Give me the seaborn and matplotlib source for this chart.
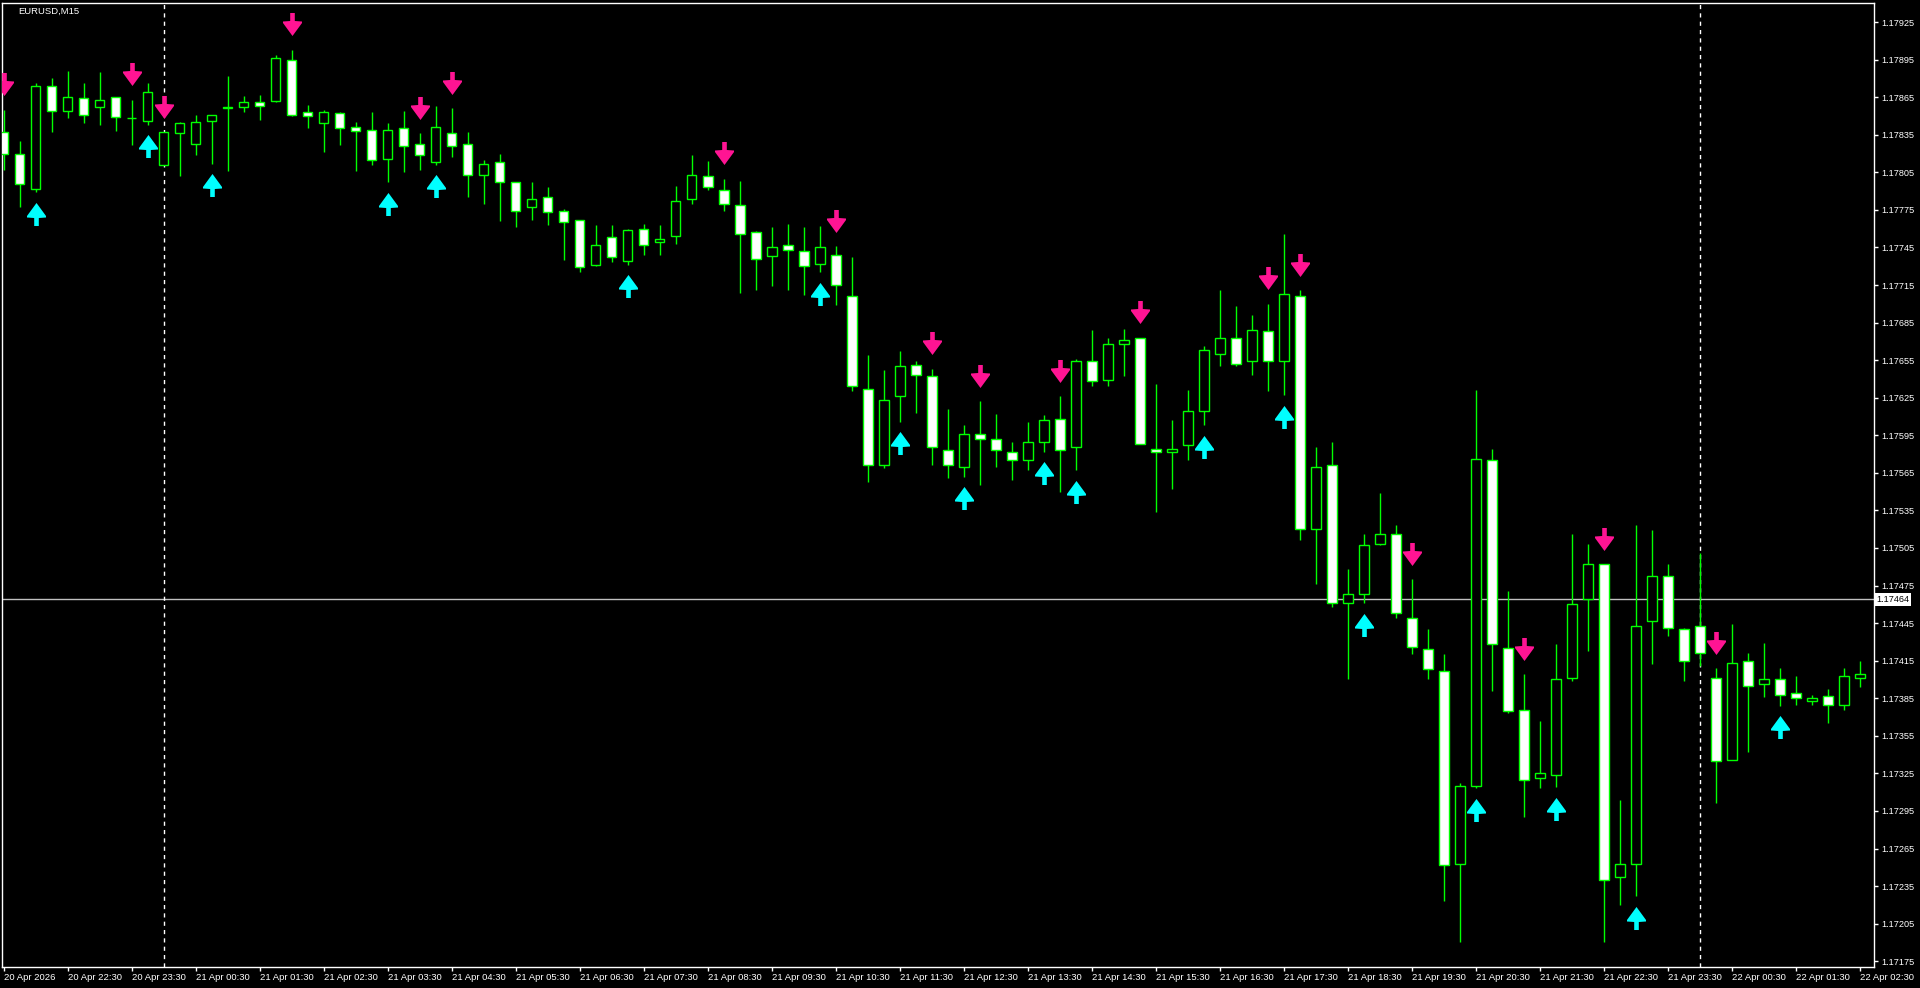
import matplotlib
matplotlib.use("Agg")
import matplotlib.pyplot as plt
from matplotlib.path import Path
from matplotlib.transforms import offset_copy
import numpy as np
import pandas as pd
import seaborn as sns

# EURUSD M15, bars from 20 Apr 21:30 to 22 Apr 02:30 (117 bars)
opens = [
    1.17837, 1.17820, 1.17792, 1.17874, 1.17854, 1.17864, 1.17857, 1.17865, 1.17848, 1.17846,
    1.17811, 1.17836, 1.17828, 1.17846, 1.17856, 1.17857, 1.17861, 1.17862, 1.17895, 1.17853,
    1.17844, 1.17852, 1.17841, 1.17839, 1.17816, 1.17840, 1.17828, 1.17813, 1.17836, 1.17828,
    1.17803, 1.17813, 1.17797, 1.17777, 1.17785, 1.17774, 1.17767, 1.17731, 1.17753, 1.17734,
    1.17760, 1.17749, 1.17754, 1.17784, 1.17802, 1.17791, 1.17779, 1.17757, 1.17738, 1.17747,
    1.17742, 1.17732, 1.17739, 1.17706, 1.17632, 1.17571, 1.17626, 1.17651, 1.17642, 1.17583,
    1.17570, 1.17596, 1.17592, 1.17582, 1.17575, 1.17590, 1.17608, 1.17586, 1.17654, 1.17639,
    1.17668, 1.17673, 1.17584, 1.17582, 1.17587, 1.17614, 1.17660, 1.17673, 1.17654, 1.17678,
    1.17654, 1.17706, 1.17520, 1.17571, 1.17461, 1.17468, 1.17508, 1.17516, 1.17449, 1.17424,
    1.17407, 1.17253, 1.17315, 1.17575, 1.17425, 1.17376, 1.17321, 1.17324, 1.17401, 1.17464,
    1.17492, 1.17242, 1.17253, 1.17447, 1.17483, 1.17440, 1.17443, 1.17401, 1.17336, 1.17415,
    1.17396, 1.17400, 1.17389, 1.17383, 1.17387, 1.17380, 1.17401]
highs = [
    1.17855, 1.17830, 1.17876, 1.17880, 1.17886, 1.17876, 1.17885, 1.17865, 1.17863, 1.17876,
    1.17837, 1.17845, 1.17851, 1.17851, 1.17882, 1.17866, 1.17867, 1.17899, 1.17903, 1.17859,
    1.17855, 1.17853, 1.17845, 1.17853, 1.17844, 1.17854, 1.17836, 1.17858, 1.17856, 1.17837,
    1.17815, 1.17820, 1.17797, 1.17797, 1.17793, 1.17776, 1.17767, 1.17763, 1.17763, 1.17760,
    1.17764, 1.17763, 1.17794, 1.17819, 1.17814, 1.17800, 1.17798, 1.17758, 1.17761, 1.17764,
    1.17761, 1.17762, 1.17746, 1.17737, 1.17659, 1.17647, 1.17662, 1.17654, 1.17648, 1.17616,
    1.17603, 1.17622, 1.17612, 1.17590, 1.17606, 1.17611, 1.17626, 1.17656, 1.17679, 1.17673,
    1.17680, 1.17673, 1.17636, 1.17607, 1.17631, 1.17666, 1.17711, 1.17698, 1.17691, 1.17700,
    1.17756, 1.17711, 1.17586, 1.17590, 1.17488, 1.17516, 1.17549, 1.17523, 1.17480, 1.17440,
    1.17420, 1.17317, 1.17631, 1.17584, 1.17471, 1.17404, 1.17367, 1.17428, 1.17516, 1.17508,
    1.17492, 1.17304, 1.17523, 1.17519, 1.17492, 1.17441, 1.17501, 1.17409, 1.17444, 1.17421,
    1.17429, 1.17409, 1.17403, 1.17388, 1.17392, 1.17409, 1.17415]
lows = [
    1.17807, 1.17777, 1.17789, 1.17837, 1.17848, 1.17844, 1.17843, 1.17838, 1.17827, 1.17843,
    1.17811, 1.17802, 1.17819, 1.17812, 1.17806, 1.17853, 1.17847, 1.17861, 1.17850, 1.17840,
    1.17821, 1.17827, 1.17806, 1.17811, 1.17797, 1.17805, 1.17807, 1.17811, 1.17817, 1.17785,
    1.17780, 1.17766, 1.17761, 1.17767, 1.17763, 1.17735, 1.17725, 1.17730, 1.17733, 1.17731,
    1.17739, 1.17739, 1.17748, 1.17780, 1.17791, 1.17774, 1.17709, 1.17711, 1.17714, 1.17711,
    1.17707, 1.17725, 1.17699, 1.17630, 1.17558, 1.17569, 1.17606, 1.17613, 1.17571, 1.17561,
    1.17562, 1.17555, 1.17570, 1.17559, 1.17567, 1.17582, 1.17550, 1.17567, 1.17634, 1.17634,
    1.17642, 1.17588, 1.17534, 1.17552, 1.17575, 1.17603, 1.17650, 1.17650, 1.17643, 1.17630,
    1.17627, 1.17511, 1.17476, 1.17458, 1.17400, 1.17461, 1.17507, 1.17449, 1.17420, 1.17400,
    1.17223, 1.17190, 1.17313, 1.17391, 1.17373, 1.17290, 1.17313, 1.17314, 1.17399, 1.17423,
    1.17190, 1.17220, 1.17227, 1.17412, 1.17435, 1.17399, 1.17411, 1.17301, 1.17336, 1.17342,
    1.17386, 1.17379, 1.17380, 1.17380, 1.17365, 1.17376, 1.17394]
closes = [
    1.17820, 1.17796, 1.17874, 1.17854, 1.17865, 1.17851, 1.17863, 1.17849, 1.17848, 1.17869,
    1.17837, 1.17844, 1.17845, 1.17851, 1.17857, 1.17861, 1.17858, 1.17896, 1.17851, 1.17850,
    1.17853, 1.17840, 1.17838, 1.17815, 1.17839, 1.17826, 1.17819, 1.17841, 1.17826, 1.17803,
    1.17812, 1.17797, 1.17774, 1.17784, 1.17773, 1.17765, 1.17729, 1.17747, 1.17737, 1.17759,
    1.17747, 1.17752, 1.17782, 1.17803, 1.17793, 1.17780, 1.17756, 1.17736, 1.17745, 1.17743,
    1.17730, 1.17745, 1.17715, 1.17634, 1.17571, 1.17623, 1.17650, 1.17643, 1.17586, 1.17571,
    1.17596, 1.17592, 1.17583, 1.17575, 1.17590, 1.17607, 1.17583, 1.17654, 1.17638, 1.17668,
    1.17671, 1.17588, 1.17582, 1.17584, 1.17614, 1.17663, 1.17673, 1.17652, 1.17679, 1.17654,
    1.17708, 1.17520, 1.17570, 1.17461, 1.17468, 1.17507, 1.17516, 1.17453, 1.17426, 1.17408,
    1.17252, 1.17315, 1.17576, 1.17428, 1.17375, 1.17320, 1.17325, 1.17400, 1.17460, 1.17492,
    1.17240, 1.17253, 1.17443, 1.17483, 1.17441, 1.17415, 1.17421, 1.17335, 1.17413, 1.17395,
    1.17400, 1.17388, 1.17385, 1.17385, 1.17380, 1.17403, 1.17404]

# signal arrows (bar numbers)
down_bars = [0, 8, 10, 18, 26, 28, 45, 52, 58, 61, 66, 71, 79, 81, 88, 95, 100, 107]
up_bars = [2, 9, 13, 24, 27, 39, 51, 56, 60, 65, 67, 75, 80, 85, 92, 97, 102, 111]

# time axis: one label every 4 bars (hourly)
date_labels = [
    "20 Apr 2026", "20 Apr 22:30", "20 Apr 23:30", "21 Apr 00:30", "21 Apr 01:30",
    "21 Apr 02:30", "21 Apr 03:30", "21 Apr 04:30", "21 Apr 05:30", "21 Apr 06:30",
    "21 Apr 07:30", "21 Apr 08:30", "21 Apr 09:30", "21 Apr 10:30", "21 Apr 11:30",
    "21 Apr 12:30", "21 Apr 13:30", "21 Apr 14:30", "21 Apr 15:30", "21 Apr 16:30",
    "21 Apr 17:30", "21 Apr 18:30", "21 Apr 19:30", "21 Apr 20:30", "21 Apr 21:30",
    "21 Apr 22:30", "21 Apr 23:30", "22 Apr 00:30", "22 Apr 01:30", "22 Apr 02:30"]
price_ticks = [
    1.17175, 1.17205, 1.17235, 1.17265, 1.17295, 1.17325, 1.17355, 1.17385, 1.17415,
    1.17445, 1.17475, 1.17505, 1.17535, 1.17565, 1.17595, 1.17625, 1.17655, 1.17685,
    1.17715, 1.17745, 1.17775, 1.17805, 1.17835, 1.17865, 1.17895, 1.17925]
bid_price = 1.17464
day_separators = [10, 106]  # 21 Apr 00:00 and 22 Apr 00:00

bars = pd.DataFrame({"open": opens, "high": highs, "low": lows, "close": closes})
bars["x"] = np.arange(len(bars))
bars["bull"] = bars["close"] >= bars["open"]

GREEN = "#00FF00"
sns.set_theme(style="ticks", rc={
    "axes.facecolor": "black", "figure.facecolor": "black",
    "axes.edgecolor": "white", "axes.linewidth": 1,
    "xtick.color": "white", "ytick.color": "white",
    "text.color": "white", "axes.grid": False})
plt.rcParams["font.family"] = ["Liberation Sans", "DejaVu Sans"]

fig = plt.figure(figsize=(19.2, 9.88), dpi=100)
ax = fig.add_axes([2 / 1920, 21 / 988, 1872 / 1920, 964 / 988])

# helper lines
ax.axhline(bid_price, color="#C0C0C0", lw=1, zorder=1)
for sep in day_separators:
    ax.axvline(sep, color="white", lw=1, ls=(0, (3, 3)), zorder=1)

# wicks and bodies
ax.vlines(bars["x"], bars["low"], bars["high"], color=GREEN, lw=1, zorder=2)
body_low = bars[["open", "close"]].min(axis=1)
body_h = (bars["close"] - bars["open"]).abs()
fills = np.where(bars["bull"], "black", "white")
ax.bar(bars["x"], body_h, bottom=body_low, width=0.62, color=fills,
       edgecolor=GREEN, linewidth=1, zorder=3)

# arrow markers: triangular head with a small shoulder, straight shaft
up_verts = [(0, 11.5), (9.5, -1.5), (9.5, -3), (2.3, -3.5), (2.3, -11.5), (-2.3, -11.5),
            (-2.3, -3.5), (-9.5, -3), (-9.5, -1.5), (0, 11.5)]
up_arrow = Path(up_verts, closed=True)
down_arrow = Path([(vx, -vy) for vx, vy in up_verts], closed=True)

dn = bars.loc[down_bars]
up = bars.loc[up_bars]
sns.scatterplot(x=dn["x"], y=dn["high"], marker=down_arrow, s=275, color="#FF1493",
                edgecolor="#FF1493", linewidth=0, zorder=4, ax=ax,
                transform=offset_copy(ax.transData, fig=fig, y=25.5, units="dots"))
sns.scatterplot(x=up["x"], y=up["low"], marker=up_arrow, s=275, color="#00FFFF",
                edgecolor="#00FFFF", linewidth=0, zorder=4, ax=ax,
                transform=offset_copy(ax.transData, fig=fig, y=-21.5, units="dots"))

ax.set_xlim(-0.094, 116.9)
ax.set_ylim(1.171704, 1.179402)
ax.set_xlabel("")
ax.set_ylabel("")

ax.set_xticks(np.arange(0, len(bars), 4))
ax.set_xticklabels(date_labels)
plt.setp(ax.get_xticklabels(), ha="left")
ax.tick_params(axis="x", direction="out", length=3, width=1, pad=1.5,
               labelsize=6.8, colors="white")

ax.yaxis.tick_right()
ax.set_yticks(price_ticks)
ax.set_yticklabels([f"{p:.5f}" for p in price_ticks])
ax.tick_params(axis="y", direction="out", length=3, width=1, pad=2,
               labelsize=6.6, colors="white")
for sp in ax.spines.values():
    sp.set_color("white")
    sp.set_visible(True)

ax.text(1.0012, bid_price, f"{bid_price:.5f}", transform=ax.get_yaxis_transform(),
        ha="left", va="center", fontsize=6.6, color="black", clip_on=False,
        bbox=dict(boxstyle="square,pad=0.2", fc="white", ec="none"))
fig.text(18 / 1920, 1 - 11 / 988, "EURUSD,M15", color="white", fontsize=6.8,
         ha="left", va="center")

fig.savefig("out.png", dpi=100, facecolor="black")
